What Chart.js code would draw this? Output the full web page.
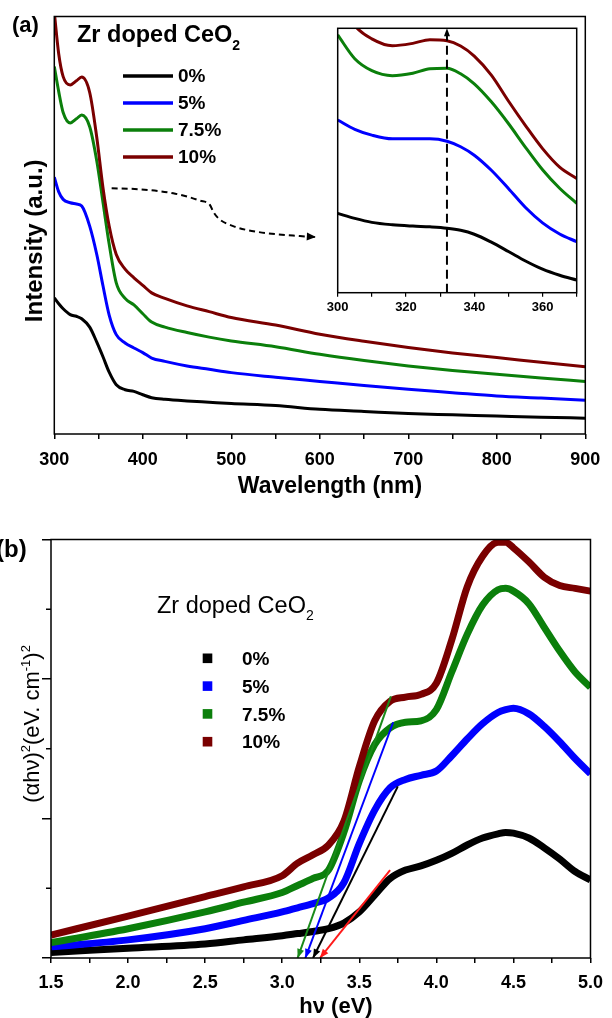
<!DOCTYPE html>
<html>
<head>
<meta charset="utf-8">
<script src="https://cdn.jsdelivr.net/npm/chart.js@4.4.1/dist/chart.umd.min.js"></script>
<style>
  html, body { margin: 0; padding: 0; background: #fff; }
  #wrap { position: relative; width: 612px; height: 1018px; overflow: hidden; }
  #wrap canvas { position: absolute; }
</style>
</head>
<body>
<div id="wrap">
  <canvas id="cA" width="612" height="500" style="left:0;top:0"></canvas>
  <canvas id="cI" width="290" height="305" style="left:300px;top:15px"></canvas>
  <canvas id="cB" width="612" height="518" style="left:0;top:500px"></canvas>
</div>
<script>
const FONT = "'Liberation Sans', Arial, sans-serif";
Chart.defaults.font.family = FONT;
Chart.defaults.color = '#000';

const SERIES = ['0%', '5%', '7.5%', '10%'];
const COLORS = ['#000000', '#0000FF', '#0B7F0B', '#7A0000'];

// (a) UV-vis intensity (a.u., 0-100 frame)
const wlMain  = [300,305,310,318,325,331,340,348,355,362,370,380,390,400,410,425,450,475,500,550,600,650,700,750,800,850,900];
const absA0   = [32.6,31.2,30.0,28.6,28.2,27.6,25.6,22.0,18.5,14.8,11.8,10.6,10.2,9.4,8.7,8.3,7.9,7.6,7.3,6.8,5.9,5.4,4.9,4.6,4.3,4.0,3.8];
const absA5   = [61.5,58,56.2,55.4,55.1,54.6,49.8,43,35.5,28.5,23.8,21.8,20.6,19.5,18.2,17.4,16.3,15.5,14.7,13.6,12.6,11.6,10.7,9.9,9.1,8.6,8.1];
const absA75  = [88,82,77,74.5,75.5,76.4,73.6,65.4,55.5,45.5,36.2,32.5,30.9,28.8,26.8,25.6,24.3,23.2,22.3,20.9,19.1,17.6,16.3,15.2,14.3,13.4,12.6];
const absA10  = [101,91,85.6,83.6,84.6,85.5,81.8,71,59,49.8,43,39.5,37.4,35.6,33.8,32.5,30.7,29.3,27.9,26.1,23.9,22.2,20.7,19.4,18.3,17.2,16.1];

// dashed pointer from the edge region to the inset (wavelength, intensity)
const pointerX = [364.8,396.8,434.4,464.6,475.9,479.6,485.2,502.1,528.6,577.5,595.5];
const pointerY = [58.85,58.6,57.65,55.9,54.85,53.25,51.7,49.8,48.45,47.4,47.2];

// inset: zoom of 300-370 nm
const wlInset = [300,305,310,316,322,327,332,336,340,345,350,355,360,365,370];
const insA0   = [30,28.1,26.6,25.7,25.2,24.9,24.4,23.6,22.1,19.1,15.6,12,8.9,6.6,4.8];
const insA5   = [65.3,61.8,59.6,58.2,58.2,58.2,57.3,55.2,52,46.3,39.4,32.2,26.4,22.2,19.3];
const insA75  = [97.5,88.5,84,82.1,83,84.7,84.9,82.8,79,72.2,64,55,46.5,39.5,33.8];
const insA10  = [112,101,96,93.4,94.3,95.7,95.3,93.3,89.5,82.3,72.5,63.2,54.5,47.5,43.2];
const insMarker = 332;

// (b) Tauc plot, (alpha h nu)^2 in arbitrary units
const evB     = [1.5,2.0,2.5,2.75,3.0,3.1,3.2,3.3,3.4,3.5,3.6,3.7,3.8,3.9,4.0,4.1,4.2,4.3,4.4,4.45,4.5,4.6,4.7,4.8,4.9,5.0];
const tauc0   = [.04,.07,.10,.13,.16,.175,.19,.21,.25,.33,.45,.57,.63,.66,.70,.75,.81,.86,.89,.90,.895,.86,.79,.71,.62,.56];
const tauc5   = [.08,.13,.21,.27,.33,.36,.39,.43,.54,.82,1.06,1.22,1.28,1.31,1.34,1.45,1.57,1.68,1.76,1.78,1.79,1.75,1.66,1.55,1.43,1.32];
const tauc75  = [.11,.21,.33,.40,.47,.52,.57,.63,.90,1.27,1.53,1.65,1.69,1.70,1.78,2.05,2.32,2.53,2.64,2.65,2.63,2.54,2.37,2.20,2.05,1.94];
const tauc10  = [.165,.30,.44,.51,.59,.68,.74,.81,.98,1.37,1.70,1.84,1.87,1.89,1.97,2.28,2.66,2.88,2.98,2.98,2.94,2.84,2.73,2.67,2.65,2.63];

// linear fits (band gap extrapolation), drawn as arrows to the axis
const tanColors = ['#1A8A1A', '#0000FF', '#000000', '#FF1A1A'];
const tanX0 = [3.10, 3.15, 3.20, 3.245];
const tanX1 = [3.705, 3.72, 3.75, 3.70];
const tanY1 = [1.875, 1.69, 1.23, 0.63];

const xy = (xs, ys) => xs.map((x, i) => ({ x, y: ys[i] }));

function font(size, bold) { return (bold ? 'bold ' : '') + size + 'px ' + FONT; }

// draws runs of text with sub/superscripts, starting at x (or centred)
function richText(ctx, parts, x, y, center) {
  let total = 0;
  parts.forEach(p => { ctx.font = font(p.size, p.bold); total += ctx.measureText(p.t).width; });
  let cx = center ? x - total / 2 : x;
  ctx.textAlign = 'left';
  ctx.textBaseline = 'alphabetic';
  parts.forEach(p => {
    ctx.font = font(p.size, p.bold);
    ctx.fillText(p.t, cx, y + (p.dy || 0));
    cx += ctx.measureText(p.t).width;
  });
}

const framePlugin = {
  id: 'frame',
  afterDraw(chart) {
    const { ctx, chartArea: a } = chart;
    ctx.save();
    ctx.strokeStyle = '#000';
    ctx.lineWidth = 1.5;
    ctx.strokeRect(a.left, a.top, a.right - a.left, a.bottom - a.top);
    ctx.restore();
  },
};

const arrowPlugin = {
  id: 'arrowHeads',
  afterDatasetsDraw(chart) {
    const ctx = chart.ctx;
    chart.data.datasets.forEach((ds, i) => {
      if (!ds.arrowAt) return;
      const pts = chart.getDatasetMeta(i).data;
      const tip = ds.arrowAt === 'end' ? pts[pts.length - 1] : pts[0];
      const from = ds.arrowAt === 'end' ? pts[pts.length - 2] : pts[1];
      const a = Math.atan2(tip.y - from.y, tip.x - from.x);
      const L = ds.arrowLen || 9, W = ds.arrowHalf || 4;
      ctx.save();
      ctx.fillStyle = ds.borderColor;
      ctx.beginPath();
      ctx.moveTo(tip.x, tip.y);
      ctx.lineTo(tip.x - L * Math.cos(a) + W * Math.sin(a), tip.y - L * Math.sin(a) - W * Math.cos(a));
      ctx.lineTo(tip.x - L * Math.cos(a) - W * Math.sin(a), tip.y - L * Math.sin(a) + W * Math.cos(a));
      ctx.closePath();
      ctx.fill();
      ctx.restore();
    });
  },
};

// ---------- panel (a) ----------
const textA = {
  id: 'textA',
  afterDraw(chart) {
    const ctx = chart.ctx;
    ctx.save();
    ctx.fillStyle = '#000';
    richText(ctx, [{ t: '(a)', size: 22, bold: true }], 12, 32);
    richText(ctx, [{ t: 'Zr doped CeO', size: 23.5, bold: true }, { t: '2', size: 14, bold: true, dy: 8 }], 77, 41.7);
    SERIES.forEach((s, i) => {
      const y = 76 + 27 * i;
      ctx.strokeStyle = COLORS[i];
      ctx.lineWidth = 3.5;
      ctx.beginPath(); ctx.moveTo(123, y); ctx.lineTo(173, y); ctx.stroke();
      ctx.font = font(19, true);
      ctx.textAlign = 'left'; ctx.textBaseline = 'middle';
      ctx.fillText(s, 178, y + 1);
    });
    ctx.font = font(23, true);
    ctx.textAlign = 'center'; ctx.textBaseline = 'alphabetic';
    ctx.fillText('Wavelength (nm)', 330, 493);
    ctx.translate(41.7, 240.8);
    ctx.rotate(-Math.PI / 2);
    ctx.font = font(24, true);
    ctx.fillText('Intensity (a.u.)', 0, 0);
    ctx.restore();
  },
};

const mainSets = [absA0, absA5, absA75, absA10];

new Chart(document.getElementById('cA'), {
  type: 'line',
  data: {
    datasets: [
      ...SERIES.map((s, i) => ({
        label: s,
        data: xy(wlMain, mainSets[i]),
        borderColor: COLORS[i],
        borderWidth: 3,
        pointRadius: 0,
        cubicInterpolationMode: 'monotone',
        order: 4 - i,
      })),
      {
        label: 'pointer',
        data: xy(pointerX, pointerY),
        borderColor: '#000',
        borderWidth: 2,
        borderDash: [6, 4],
        pointRadius: 0,
        cubicInterpolationMode: 'monotone',
        order: 0,
        arrowAt: 'end', arrowLen: 9, arrowHalf: 4,
      },
    ],
  },
  options: {
    responsive: false,
    animation: false,
    layout: { padding: { left: 0, top: 16.5, right: 26.7, bottom: 0 } },
    plugins: { legend: { display: false }, tooltip: { enabled: false } },
    scales: {
      x: {
        type: 'linear', min: 300, max: 900,
        ticks: {
          stepSize: 50, autoSkip: false, maxRotation: 0, padding: 10,
          font: { size: 18, weight: 'bold' },
          callback: v => (v % 100 === 0 ? String(v) : ''),
        },
        grid: { drawOnChartArea: false, drawTicks: true, tickLength: 5, color: '#000', lineWidth: 1.5 },
        border: { display: false },
        afterFit: s => { s.height = 66; },
      },
      y: {
        min: 0, max: 100,
        ticks: { display: false },
        grid: { display: false },
        border: { display: false },
        afterFit: s => { s.width = 54.3; },
      },
    },
  },
  plugins: [framePlugin, arrowPlugin, textA],
});

// ---------- inset ----------
const insetSets = [insA0, insA5, insA75, insA10];

new Chart(document.getElementById('cI'), {
  type: 'line',
  data: {
    datasets: [
      ...SERIES.map((s, i) => ({
        label: s,
        data: xy(wlInset, insetSets[i]),
        borderColor: COLORS[i],
        borderWidth: 3,
        pointRadius: 0,
        cubicInterpolationMode: 'monotone',
        order: 4 - i,
      })),
      {
        label: 'peak',
        data: [{ x: insMarker, y: 0 }, { x: insMarker, y: 100 }],
        borderColor: '#000',
        borderWidth: 2,
        borderDash: [9, 5],
        pointRadius: 0,
        tension: 0,
        order: 0,
        arrowAt: 'end', arrowLen: 8, arrowHalf: 3,
      },
    ],
  },
  options: {
    responsive: false,
    animation: false,
    layout: { padding: { left: 0, top: 13.3, right: 13.3, bottom: 0 } },
    plugins: { legend: { display: false }, tooltip: { enabled: false } },
    scales: {
      x: {
        type: 'linear', min: 300, max: 370,
        ticks: {
          stepSize: 10, autoSkip: false, maxRotation: 0, padding: 3,
          font: { size: 13, weight: 'bold' },
          callback: v => (v % 20 === 0 ? String(v) : ''),
        },
        grid: { drawOnChartArea: false, drawTicks: true, tickLength: 4, color: '#000', lineWidth: 1.2 },
        border: { display: false },
        afterFit: s => { s.height = 27.3; },
      },
      y: {
        min: 0, max: 100,
        ticks: { display: false },
        grid: { display: false },
        border: { display: false },
        afterFit: s => { s.width = 37.7; },
      },
    },
  },
  plugins: [framePlugin, arrowPlugin],
});

// ---------- panel (b) ----------
const textB = {
  id: 'textB',
  afterDraw(chart) {
    const { ctx, scales } = chart;
    ctx.save();
    ctx.fillStyle = '#000';
    // short minor ticks on the y axis
    ctx.strokeStyle = '#000';
    ctx.lineWidth = 1.5;
    [0.5, 1.5, 2.5].forEach(v => {
      const py = scales.y.getPixelForValue(v);
      ctx.beginPath(); ctx.moveTo(scales.y.right - 5, py); ctx.lineTo(scales.y.right, py); ctx.stroke();
    });
    richText(ctx, [{ t: '(b)', size: 24, bold: true }], -4, 56.5);
    richText(ctx, [{ t: 'Zr doped CeO', size: 23.5 }, { t: '2', size: 14, dy: 7.3 }], 157, 112.7);
    SERIES.forEach((s, i) => {
      const y = 158.3 + 27.8 * i;
      ctx.fillStyle = COLORS[i];
      ctx.fillRect(202.7, y - 4.8, 9.6, 9.6);
      ctx.fillStyle = '#000';
      ctx.font = font(19, true);
      ctx.textAlign = 'left'; ctx.textBaseline = 'middle';
      ctx.fillText(s, 242, y + 1.5);
    });
    ctx.font = font(22, true);
    ctx.textAlign = 'center'; ctx.textBaseline = 'alphabetic';
    ctx.fillText('h\u03BD (eV)', 336, 512.5);
    ctx.translate(39, 224);
    ctx.rotate(-Math.PI / 2);
    richText(ctx, [
      { t: '(\u03B1h\u03BD)', size: 22 },
      { t: '2', size: 13, dy: -9 },
      { t: '(eV. cm', size: 22 },
      { t: '-1', size: 13, dy: -9 },
      { t: ')', size: 22 },
      { t: '2', size: 13, dy: -9 },
    ], 0, 0, true);
    ctx.restore();
  },
};

const taucSets = [tauc0, tauc5, tauc75, tauc10];

new Chart(document.getElementById('cB'), {
  type: 'line',
  data: {
    datasets: [
      ...SERIES.map((s, i) => ({
        label: s,
        data: xy(evB, taucSets[i]),
        borderColor: COLORS[i],
        borderWidth: 7,
        pointRadius: 0,
        cubicInterpolationMode: 'monotone',
        order: 5 - i,
      })),
      ...tanColors.map((c, i) => ({
        label: 'fit ' + SERIES[i],
        data: [{ x: tanX0[i], y: 0 }, { x: tanX1[i], y: tanY1[i] }],
        borderColor: c,
        borderWidth: 2,
        pointRadius: 0,
        tension: 0,
        order: 0,
        arrowAt: 'start', arrowLen: 9, arrowHalf: 3.5,
      })),
    ],
  },
  options: {
    responsive: false,
    animation: false,
    layout: { padding: { left: 0, top: 39.5, right: 14.5, bottom: 0 } },
    plugins: { legend: { display: false }, tooltip: { enabled: false } },
    scales: {
      x: {
        type: 'linear', min: 1.5, max: 5.0,
        ticks: {
          stepSize: 0.25, autoSkip: false, maxRotation: 0, padding: 9,
          font: { size: 18, weight: 'bold' },
          callback: v => (Math.abs(v * 2 - Math.round(v * 2)) < 1e-6 ? v.toFixed(1) : ''),
        },
        grid: { drawOnChartArea: false, drawTicks: true, tickLength: 5, color: '#000', lineWidth: 1.5 },
        border: { display: false },
        afterFit: s => { s.height = 60; },
      },
      y: {
        min: 0, max: 3,
        ticks: { display: false, stepSize: 0.5 },
        grid: {
          drawOnChartArea: false, drawTicks: true, tickLength: 9, lineWidth: 1.5,
          color: c => (c.tick && Math.abs(c.tick.value % 1) < 1e-6 ? '#000' : 'rgba(0,0,0,0)'),
        },
        border: { display: false },
        afterFit: s => { s.width = 51; },
      },
    },
  },
  plugins: [framePlugin, arrowPlugin, textB],
});
</script>
</body>
</html>
